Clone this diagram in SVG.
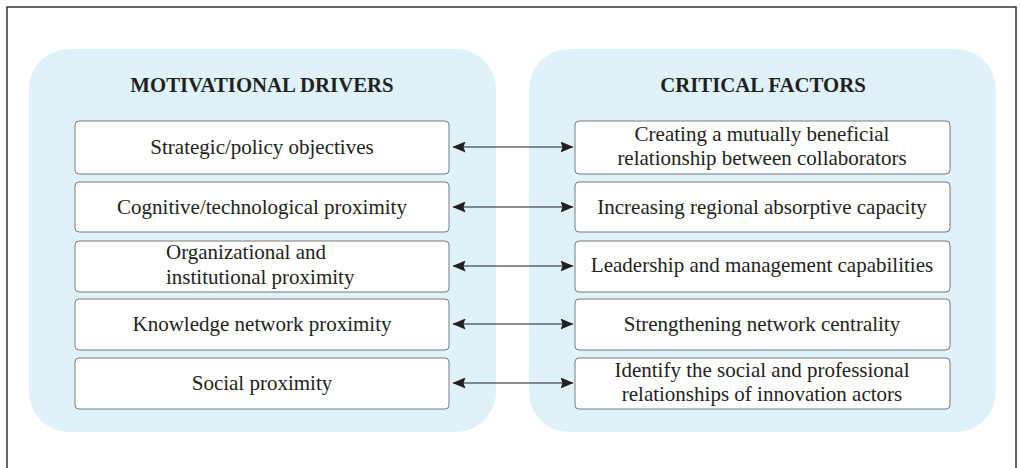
<svg xmlns="http://www.w3.org/2000/svg" width="1020" height="468" viewBox="0 0 1020 468">
<style>
.panel{fill:#dff1f9}
.box{fill:#fff;stroke:#7a7a7a;stroke-width:1}
.t{font-family:"Liberation Serif",serif;font-size:21px;fill:#231f20;text-anchor:middle}
.h{font-family:"Liberation Serif",serif;font-size:20.8px;font-weight:bold;fill:#231f20;text-anchor:middle}
.c{stroke:#231f20;stroke-width:1.2;fill:none;marker-start:url(#a);marker-end:url(#a)}
</style>
<defs>
<marker id="a" viewBox="0 0 13 11" refX="12.5" refY="5.5" markerWidth="13" markerHeight="11" markerUnits="userSpaceOnUse" orient="auto-start-reverse">
<path d="M0,0 L13,5.5 L0,11 L2,5.5 Z" fill="#231f20"/>
</marker>
</defs>
<rect x="0" y="0" width="1020" height="468" fill="#fff"/>
<path d="M7,475 V7 H1016 V475" fill="none" stroke="#333" stroke-width="1.5"/>
<g id="left-panel">
<rect class="panel" x="29" y="49" width="467" height="383" rx="40"/>
<text class="h" x="262" y="92">MOTIVATIONAL DRIVERS</text>
</g>
<g id="right-panel">
<rect class="panel" x="529" y="49" width="467" height="383" rx="40"/>
<text class="h" x="763" y="92">CRITICAL FACTORS</text>
</g>
<g id="m1"><rect class="box" x="75" y="121" width="374" height="53" rx="4"/><text class="t" x="262" y="154">Strategic/policy objectives</text></g>
<g id="m2"><rect class="box" x="75" y="182" width="374" height="50" rx="4"/><text class="t" x="262" y="214">Cognitive/technological proximity</text></g>
<g id="m3"><rect class="box" x="75" y="241" width="374" height="51" rx="4"/><text class="t" x="166" y="259" style="text-anchor:start">Organizational and</text><text class="t" x="166" y="284" style="text-anchor:start">institutional proximity</text></g>
<g id="m4"><rect class="box" x="75" y="299" width="374" height="51" rx="4"/><text class="t" x="262" y="331">Knowledge network proximity</text></g>
<g id="m5"><rect class="box" x="75" y="358" width="374" height="51" rx="4"/><text class="t" x="262" y="390">Social proximity</text></g>
<g id="c1"><rect class="box" x="575" y="121" width="375" height="53" rx="4"/><text class="t" x="762" y="141">Creating a mutually beneficial</text><text class="t" x="762" y="165">relationship between collaborators</text></g>
<g id="c2"><rect class="box" x="575" y="182" width="375" height="50" rx="4"/><text class="t" x="762" y="214">Increasing regional absorptive capacity</text></g>
<g id="c3"><rect class="box" x="575" y="241" width="375" height="51" rx="4"/><text class="t" x="762" y="272">Leadership and management capabilities</text></g>
<g id="c4"><rect class="box" x="575" y="299" width="375" height="51" rx="4"/><text class="t" x="762" y="331">Strengthening network centrality</text></g>
<g id="c5"><rect class="box" x="575" y="358" width="375" height="51" rx="4"/><text class="t" x="762" y="377">Identify the social and professional</text><text class="t" x="762" y="401">relationships of innovation actors</text></g>
<g id="connectors">
<line class="c" x1="453" y1="147" x2="573" y2="147"/>
<line class="c" x1="453" y1="207" x2="573" y2="207"/>
<line class="c" x1="453" y1="266" x2="573" y2="266"/>
<line class="c" x1="453" y1="324" x2="573" y2="324"/>
<line class="c" x1="453" y1="383" x2="573" y2="383"/>
</g>
</svg>
